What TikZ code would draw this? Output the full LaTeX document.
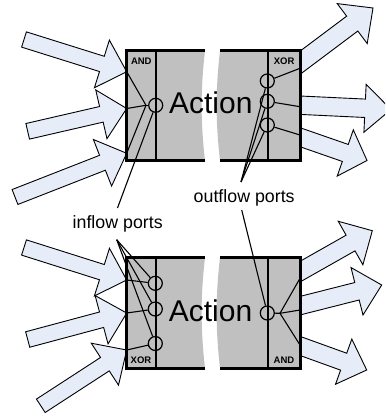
\documentclass[tikz,border=0pt]{standalone}
\usepackage{fontspec}
\setmainfont{Liberation Sans}
\usetikzlibrary{calc}
\definecolor{arrowfill}{RGB}{230,237,248}
\definecolor{boxgray}{RGB}{192,192,192}
% #1 tail, #2 tip, #3 half shaft width, #4 half head width, #5 head length
\newcommand\myblockarrow[5]{%
  \path ($(#2)!#5!(#1)$) coordinate (hb);
  \filldraw[barrow] ($(#1)!#3!90:(#2)$) -- ($(hb)!#3!90:(#2)$) -- ($(hb)!#4!90:(#2)$) -- (#2)
    -- ($(hb)!#4!-90:(#2)$) -- ($(hb)!#3!-90:(#2)$) -- ($(#1)!#3!-90:(#2)$) -- cycle;
}
\begin{document}
\begin{tikzpicture}[x=1pt,y=-1pt,
  barrow/.style={fill=arrowfill,draw=black,line width=0.9pt,line join=miter},
  boxfill/.style={fill=boxgray},
  boxline/.style={draw=black,line width=2.5pt,line join=miter},
  divider/.style={draw=black,line width=2pt},
  port/.style={circle,draw=black,line width=1.2pt,minimum size=14pt,inner sep=0pt},
  conn/.style={draw=black,line width=1.1pt},
  gate/.style={font=\fontsize{9.5}{10}\selectfont\bfseries,inner sep=0pt,anchor=base},
  act/.style={font=\fontsize{30}{34}\selectfont,inner sep=0pt,anchor=base},
  lbl/.style={font=\fontsize{17.8}{20}\selectfont,inner sep=0pt,anchor=base}
]
\useasboundingbox (0,0) rectangle (385,417);
\clip (0,0) rectangle (385,417);

% ---- arrow end points ----
\coordinate (ta1) at (24,39.5);    \coordinate (a1) at (126.7,71.7);
\coordinate (ta2) at (27.7,131.3); \coordinate (a2) at (126.7,108.5);
\coordinate (ta3) at (15,197);     \coordinate (a3) at (126.7,153.3);
\coordinate (tb1) at (24,247.5);   \coordinate (b1) at (126.7,280);
\coordinate (tb2) at (27.7,339.5); \coordinate (b2) at (126.7,313);
\coordinate (tb3) at (40.8,405.8); \coordinate (b3) at (126.7,350);
\coordinate (tr1) at (285,74);     \coordinate (r1tip) at (373,8);
\coordinate (tr2) at (285,104.5);  \coordinate (r2tip) at (391,109.5);
\coordinate (tr3) at (285,132);    \coordinate (r3tip) at (367,160.5);
\coordinate (ts1) at (285.3,280);  \coordinate (s1tip) at (372.3,230.7);
\coordinate (ts2) at (285,309.5);  \coordinate (s2tip) at (381.7,285);
\coordinate (ts3) at (285,340.5);  \coordinate (s3tip) at (366.7,370);

% ---- block arrows ----
\myblockarrow{ta1}{a1}{8pt}{25pt}{26pt}
\myblockarrow{ta2}{a2}{8pt}{25pt}{26pt}
\myblockarrow{ta3}{a3}{8pt}{25pt}{26pt}
\myblockarrow{tb1}{b1}{8pt}{25pt}{26pt}
\myblockarrow{tb2}{b2}{8pt}{25pt}{26pt}
\myblockarrow{tb3}{b3}{8pt}{25pt}{26pt}
\myblockarrow{tr1}{r1tip}{9.3pt}{25pt}{26pt}
\myblockarrow{tr2}{r2tip}{9.2pt}{24pt}{26pt}
\myblockarrow{tr3}{r3tip}{9pt}{24.5pt}{23pt}
\myblockarrow{ts1}{s1tip}{9pt}{25pt}{25pt}
\myblockarrow{ts2}{s2tip}{9pt}{24.5pt}{25.5pt}
\myblockarrow{ts3}{s3tip}{9pt}{24pt}{24.5pt}

% ---- top action box ----
\path[boxfill] (126.7,50.7) -- (205,50.7) .. controls (200.5,90) and (200.5,121) .. (205,160.7) -- (126.7,160.7) -- cycle;
\path[boxfill] (220,50.7) .. controls (215.5,90) and (215.5,121) .. (220,160.7) -- (300.3,160.7) -- (300.3,50.7) -- cycle;
\draw[boxline] (205,50.7) -- (126.7,50.7) -- (126.7,160.7) -- (205,160.7);
\draw[boxline] (220,50.7) -- (300.3,50.7) -- (300.3,160.7) -- (220,160.7);
\draw[divider] (155.7,50.7) -- (155.7,160.7);
\draw[divider] (268.3,50.7) -- (268.3,160.7);

% ---- bottom action box ----
\path[boxfill] (126.7,257.3) -- (205,257.3) .. controls (200.5,297) and (200.5,328) .. (205,368.3) -- (126.7,368.3) -- cycle;
\path[boxfill] (220,257.3) .. controls (215.5,297) and (215.5,328) .. (220,368.3) -- (300.3,368.3) -- (300.3,257.3) -- cycle;
\draw[boxline] (205,257.3) -- (126.7,257.3) -- (126.7,368.3) -- (205,368.3);
\draw[boxline] (220,257.3) -- (300.3,257.3) -- (300.3,368.3) -- (220,368.3);
\draw[divider] (155.7,257.3) -- (155.7,368.3);
\draw[divider] (268.3,257.3) -- (268.3,368.3);

% ---- texts ----
\node[act] (act1) at (210.8,113.3) {Action};
\node[act] (act2) at (210.5,321.7) {Action};
\node[gate] (g1) at (141.3,64.3) {AND};
\node[gate] (g2) at (284.2,64.3) {XOR};
\node[gate] (g3) at (141,363.3) {XOR};
\node[gate] (g4) at (284,363) {AND};
\node[lbl] (inl) at (117.7,228.3) {inflow ports};
\node[lbl] (outl) at (244.2,202.3) {outflow ports};

% ---- ports ----
\node[port] (p1) at (155.7,105.3) {};
\node[port] (q1) at (267.3,81) {};
\node[port] (q2) at (267.3,101.3) {};
\node[port] (q3) at (267.3,125) {};
\node[port] (r1) at (155.3,283.3) {};
\node[port] (r2) at (155.3,309) {};
\node[port] (r3) at (155.3,343.5) {};
\node[port] (s1) at (267.3,313) {};

% ---- connector points ----
\coordinate (j1) at (146,105.3);
\coordinate (j2) at (280,313.3);
\coordinate (e1) at (300,68.3);
\coordinate (e2) at (300,106.7);
\coordinate (e3) at (300,135);
\coordinate (f1) at (300,278.3);
\coordinate (f2) at (300,310);
\coordinate (f3) at (300,345);
\coordinate (il1) at (117.5,208);
\coordinate (il2) at (116.7,239.7);
\coordinate (ol1) at (241,182);
\coordinate (ol2) at (241.7,210);

% ---- connectors ----
\draw[conn] (a1) -- (j1);
\draw[conn] (a2) -- (j1);
\draw[conn] (a3) -- (j1);
\draw[conn] (j1) -- (p1);
\draw[conn] (q1) -- (e1);
\draw[conn] (q2) -- (e2);
\draw[conn] (q3) -- (e3);
\draw[conn] (b1) -- (r1);
\draw[conn] (b2) -- (r2);
\draw[conn] (b3) -- (r3);
\draw[conn] (s1) -- (j2);
\draw[conn] (j2) -- (f1);
\draw[conn] (j2) -- (f2);
\draw[conn] (j2) -- (f3);
\draw[conn] (il1) -- (p1);
\draw[conn] (il2) -- (r1);
\draw[conn] (il2) -- (r2);
\draw[conn] (il2) -- (r3);
\draw[conn] (ol1) -- (q1);
\draw[conn] (ol1) -- (q2);
\draw[conn] (ol1) -- (q3);
\draw[conn] (ol2) -- (s1);
\end{tikzpicture}
\end{document}
